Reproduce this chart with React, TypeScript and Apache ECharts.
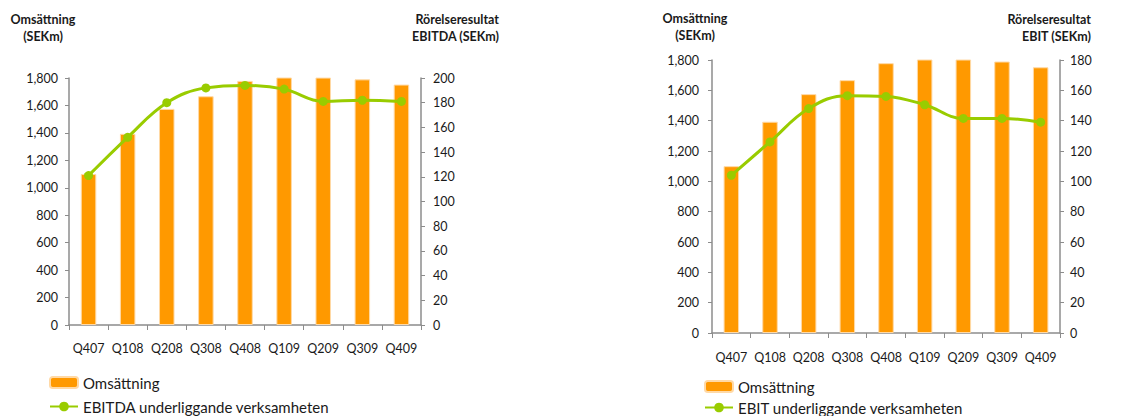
import React, { useEffect, useRef } from "react";
import * as echarts from "echarts";

const categories = ["Q407", "Q108", "Q208", "Q308", "Q408", "Q109", "Q209", "Q309", "Q409"];
const omsattning = [1100, 1393, 1575, 1667, 1779, 1805, 1803, 1790, 1752];
const ebitda = [121, 152, 180, 192, 194, 191, 181, 182, 181];
const ebit = [104, 126, 148, 156.5, 156, 150.5, 141.5, 141.5, 139];
const leftTicksMax = 1800;
const ebitdaMax = 200;
const ebitMax = 180;

const ORANGE = "#FF9900";
const GREEN = "#99CC00";
const AXIS = "#8C8C8C";
const FONT = "Lato";

export default function App() {
  const ref = useRef<HTMLDivElement>(null);
  useEffect(() => {
    if (!ref.current) return;
    const chart = echarts.init(ref.current, undefined, { renderer: "svg" });
    const axisLine = { show: true, lineStyle: { color: AXIS, width: 1.5 } };
    const axisTick = { show: true, length: 4, lineStyle: { color: AXIS, width: 1 } };
    const label = { color: "#1a1a1a", fontSize: 12.5, fontFamily: FONT };
    const fmt = (v: number) => v.toLocaleString("en-US");
    const xAxisBase = (gridIndex: number, margin: number) => ({
      type: "category",
      gridIndex,
      data: categories,
      axisLine,
      axisTick: { ...axisTick, length: 5, interval: 0 },
      axisLabel: { ...label, margin, interval: 0 },
      splitLine: { show: false },
    });
    const yAxisBase = (gridIndex: number, position: string, max: number, interval: number, margin: number) => ({
      type: "value",
      gridIndex,
      position,
      min: 0,
      max,
      interval,
      axisLine,
      axisTick,
      axisLabel: { ...label, margin, formatter: fmt },
      splitLine: { show: false },
    });
    const barSeries = (xi: number, yi: number) => ({
      name: "Omsättning",
      type: "bar",
      xAxisIndex: xi,
      yAxisIndex: yi,
      data: omsattning,
      barWidth: 15.5,
      itemStyle: { color: ORANGE, borderColor: "#FFD9A6", borderWidth: 1 },
    });
    const lineSeries = (name: string, data: number[], xi: number, yi: number) => ({
      name,
      type: "line",
      xAxisIndex: xi,
      yAxisIndex: yi,
      data,
      smooth: 0.4,
      symbol: "circle",
      symbolSize: 9,
      lineStyle: { color: GREEN, width: 3 },
      itemStyle: { color: GREEN },
    });
    const legendText = { fontSize: 15, fontFamily: FONT, color: "#1a1a1a" };
    const titleStyle = (x: number, y: number, text: string, align: string) => ({
      type: "text",
      x,
      y,
      style: {
        text,
        textAlign: align,
        textVerticalAlign: "top",
        fontSize: 12.5,
        fontWeight: "bold",
        fontFamily: FONT,
        lineHeight: 17,
        fill: "#1a1a1a",
      },
    });
    chart.setOption({
      animation: false,
      backgroundColor: "#ffffff",
      grid: [
        { left: 69, right: 1144 - 421, top: 78, bottom: 416 - 325, containLabel: false },
        { left: 712, right: 1144 - 1060, top: 60, bottom: 416 - 333, containLabel: false },
      ],
      xAxis: [xAxisBase(0, 17), xAxisBase(1, 18)],
      yAxis: [
        yAxisBase(0, "left", leftTicksMax, 200, 11),
        yAxisBase(0, "right", ebitdaMax, 20, 12),
        yAxisBase(1, "left", leftTicksMax, 200, 13),
        yAxisBase(1, "right", ebitMax, 20, 10),
      ],
      legend: [
        {
          data: ["Omsättning"], left: 49, top: 375, padding: 0,
          itemWidth: 28, itemHeight: 11, textStyle: legendText,
        },
        {
          data: ["EBITDA underliggande verksamheten"], left: 49, top: 399, padding: 0,
          itemWidth: 28, itemHeight: 12, textStyle: legendText,
        },
        {
          data: ["Omsättning"], left: 704, top: 379, padding: 0,
          itemWidth: 28, itemHeight: 11, textStyle: legendText,
        },
        {
          data: ["EBIT underliggande verksamheten"], left: 704, top: 400, padding: 0,
          itemWidth: 28, itemHeight: 12, textStyle: legendText,
        },
      ],
      graphic: [
        titleStyle(43, 11, "Omsättning\n(SEKm)", "center"),
        titleStyle(499, 11, "Rörelseresultat\nEBITDA (SEKm)", "right"),
        titleStyle(695, 10, "Omsättning\n(SEKm)", "center"),
        titleStyle(1091, 11, "Rörelseresultat\nEBIT (SEKm)", "right"),
      ],
      series: [
        barSeries(0, 0),
        lineSeries("EBITDA underliggande verksamheten", ebitda, 0, 1),
        barSeries(1, 2),
        lineSeries("EBIT underliggande verksamheten", ebit, 1, 3),
      ],
    });
    return () => chart.dispose();
  }, []);
  return (
    <div
      ref={ref}
      style={{ position: "absolute", left: 0, top: 0, width: 1144, height: 416, background: "#fff" }}
    />
  );
}
